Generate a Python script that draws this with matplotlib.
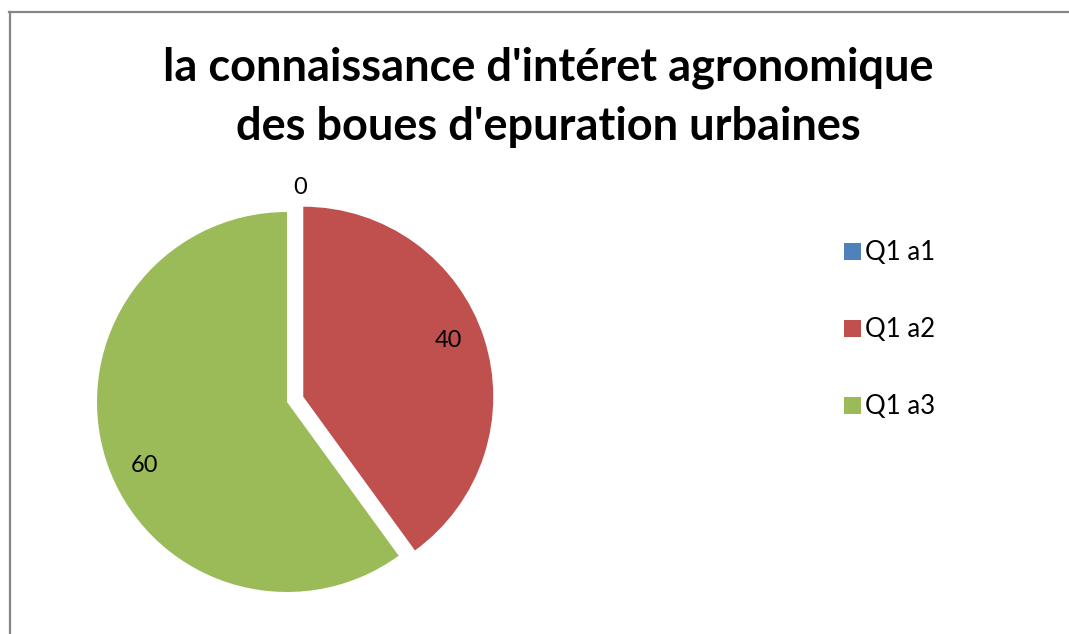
import numpy as np
import matplotlib.pyplot as plt
from matplotlib.lines import Line2D

plt.rcParams['font.family'] = ['Lato', 'DejaVu Sans']

labels = ['Q1 a1', 'Q1 a2', 'Q1 a3']
values = [0, 40, 60]
colors = ['#4F81BD', '#C0504D', '#9BBB59']
explode = [0, 0.09, 0]

W, H = 1069, 634
fig = plt.figure(figsize=(W / 100, H / 100), dpi=100)

# chart border (only top and left edges visible in the crop)
fig.add_artist(Line2D([9.5 / W, 9.5 / W], [0, 1 - 12 / H], color='#868686', lw=1.6))
fig.add_artist(Line2D([9 / W, 1], [1 - 12 / H, 1 - 12 / H], color='#868686', lw=1.6))

fig.text(548 / W, 1 - 97 / H, "la connaissance d'intéret agronomique\ndes boues d'epuration urbaines",
         ha='center', va='center', fontsize=32.5, fontweight='bold', linespacing=1.5)

# pie axes: radius 1 -> 190 px, centre at (287, 402)
L = 1.2
S = 2 * L * 190
cx, cy = 287, 402
ax = fig.add_axes([(cx - S / 2) / W, (H - cy - S / 2) / H, S / W, S / H])
wedges, _ = ax.pie(values, colors=colors, explode=explode, startangle=90,
                   counterclock=False, radius=1)
ax.set_xlim(-L, L)
ax.set_ylim(-L, L)
ax.set_aspect('equal')
ax.axis('off')

# data labels (small angle nudges as Excel places them)
nudge = [0, 3, 6]
for w, v, dn in zip(wedges, values, nudge):
    ang = np.deg2rad((w.theta1 + w.theta2) / 2 + dn)
    c = w.center
    if v == 0:
        x, y = c[0] + 0.07, 1.13
    else:
        x, y = c[0] + 0.82 * np.cos(ang), c[1] + 0.82 * np.sin(ang)
    ax.text(x, y, str(v), ha='center', va='center', fontsize=17)

fig.legend(wedges, labels, loc='upper left', bbox_to_anchor=(821 / W, 1 - 217 / H),
           frameon=False, fontsize=18.5, labelspacing=2.03, handlelength=0.65,
           handleheight=0.65, handletextpad=0.15)

fig.savefig('out.png', dpi=100)
